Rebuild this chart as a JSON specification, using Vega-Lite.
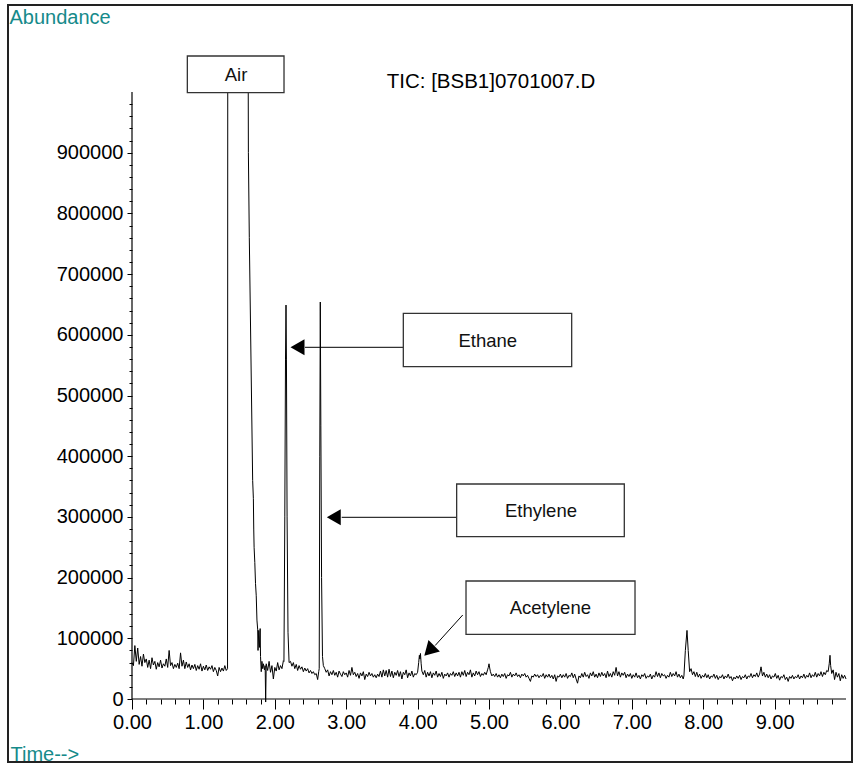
{
  "$schema": "https://vega.github.io/schema/vega-lite/v6.json",
  "width": 844,
  "height": 757,
  "autosize": "none",
  "padding": {"left": 8, "top": 5, "right": 2, "bottom": 3},
  "background": "white",
  "config": {
    "view": {"stroke": "#222", "strokeWidth": 2},
    "font": "Liberation Sans",
    "axis": {
      "grid": false,
      "domain": false,
      "labelFont": "Liberation Sans",
      "labelFontSize": 20,
      "labelColor": "#000",
      "labelFlush": false,
      "tickColor": "#000",
      "tickWidth": 1,
      "titleFont": "Liberation Sans",
      "titleFontWeight": "normal",
      "titleFontSize": 20,
      "titleColor": "#168a8a"
    }
  },
  "resolve": {"axis": {"x": "independent", "y": "independent"}},
  "datasets": {
    "trace": [
      {"t": 0.00, "a": 60000}, {"t": 0.02, "a": 55000}, {"t": 0.04, "a": 88000}, {"t": 0.06, "a": 62000},
      {"t": 0.08, "a": 84000}, {"t": 0.10, "a": 57000}, {"t": 0.12, "a": 70000}, {"t": 0.14, "a": 54000},
      {"t": 0.16, "a": 74000}, {"t": 0.18, "a": 60000}, {"t": 0.20, "a": 66000}, {"t": 0.22, "a": 52000},
      {"t": 0.24, "a": 64000}, {"t": 0.26, "a": 50000}, {"t": 0.28, "a": 68000}, {"t": 0.30, "a": 56000},
      {"t": 0.32, "a": 62000}, {"t": 0.34, "a": 49000}, {"t": 0.36, "a": 60000}, {"t": 0.38, "a": 53000},
      {"t": 0.40, "a": 64000}, {"t": 0.42, "a": 51000}, {"t": 0.44, "a": 58000}, {"t": 0.46, "a": 54000},
      {"t": 0.48, "a": 66000}, {"t": 0.50, "a": 52000}, {"t": 0.52, "a": 80000}, {"t": 0.54, "a": 55000},
      {"t": 0.56, "a": 60000}, {"t": 0.58, "a": 50000}, {"t": 0.60, "a": 57000}, {"t": 0.62, "a": 52000},
      {"t": 0.64, "a": 59000}, {"t": 0.66, "a": 50000}, {"t": 0.68, "a": 76000}, {"t": 0.70, "a": 54000},
      {"t": 0.72, "a": 64000}, {"t": 0.74, "a": 50000}, {"t": 0.76, "a": 61000}, {"t": 0.78, "a": 52000},
      {"t": 0.80, "a": 58000}, {"t": 0.82, "a": 48000}, {"t": 0.84, "a": 56000}, {"t": 0.86, "a": 50000},
      {"t": 0.88, "a": 57000}, {"t": 0.90, "a": 47000}, {"t": 0.92, "a": 55000}, {"t": 0.94, "a": 49000},
      {"t": 0.96, "a": 58000}, {"t": 0.98, "a": 46000}, {"t": 1.00, "a": 54000}, {"t": 1.02, "a": 48000},
      {"t": 1.04, "a": 56000}, {"t": 1.06, "a": 47000}, {"t": 1.08, "a": 53000}, {"t": 1.10, "a": 49000},
      {"t": 1.12, "a": 55000}, {"t": 1.14, "a": 45000}, {"t": 1.16, "a": 52000}, {"t": 1.18, "a": 47000},
      {"t": 1.20, "a": 38000}, {"t": 1.22, "a": 52000}, {"t": 1.24, "a": 45000}, {"t": 1.26, "a": 51000},
      {"t": 1.28, "a": 46000}, {"t": 1.30, "a": 55000}, {"t": 1.32, "a": 47000}, {"t": 1.338, "a": 50000},
      {"t": 1.341, "a": 1000000}, {"t": 1.628, "a": 1000000}, {"t": 1.630, "a": 900000}, {"t": 1.643, "a": 760000},
      {"t": 1.690, "a": 360000}, {"t": 1.700, "a": 330000}, {"t": 1.705, "a": 280000}, {"t": 1.710, "a": 250000},
      {"t": 1.720, "a": 225000}, {"t": 1.730, "a": 190000}, {"t": 1.740, "a": 170000}, {"t": 1.750, "a": 130000},
      {"t": 1.760, "a": 115000}, {"t": 1.765, "a": 80000}, {"t": 1.775, "a": 113000}, {"t": 1.785, "a": 85000},
      {"t": 1.795, "a": 116000}, {"t": 1.800, "a": 70000}, {"t": 1.810, "a": 45000}, {"t": 1.820, "a": 62000},
      {"t": 1.830, "a": 50000}, {"t": 1.840, "a": 58000}, {"t": 1.855, "a": 48000}, {"t": 1.865, "a": 55000},
      {"t": 1.872, "a": -5000}, {"t": 1.880, "a": 58000}, {"t": 1.90, "a": 47000}, {"t": 1.92, "a": 62000},
      {"t": 1.94, "a": 44000}, {"t": 1.96, "a": 55000}, {"t": 1.98, "a": 33000}, {"t": 2.00, "a": 52000},
      {"t": 2.02, "a": 46000}, {"t": 2.04, "a": 60000}, {"t": 2.06, "a": 48000}, {"t": 2.08, "a": 55000},
      {"t": 2.10, "a": 50000}, {"t": 2.12, "a": 63000}, {"t": 2.128, "a": 62000},
      {"t": 2.140, "a": 300000}, {"t": 2.150, "a": 560000}, {"t": 2.157, "a": 649000}, {"t": 2.163, "a": 560000},
      {"t": 2.172, "a": 300000}, {"t": 2.185, "a": 110000}, {"t": 2.200, "a": 60000},
      {"t": 2.22, "a": 62000}, {"t": 2.24, "a": 54000}, {"t": 2.26, "a": 60000}, {"t": 2.28, "a": 50000},
      {"t": 2.30, "a": 57000}, {"t": 2.32, "a": 47000}, {"t": 2.34, "a": 55000}, {"t": 2.36, "a": 49000},
      {"t": 2.38, "a": 53000}, {"t": 2.40, "a": 45000}, {"t": 2.42, "a": 51000}, {"t": 2.44, "a": 46000},
      {"t": 2.46, "a": 50000}, {"t": 2.48, "a": 43000}, {"t": 2.50, "a": 47000}, {"t": 2.52, "a": 42000},
      {"t": 2.54, "a": 45000}, {"t": 2.56, "a": 40000}, {"t": 2.58, "a": 42000}, {"t": 2.60, "a": 32000},
      {"t": 2.615, "a": 45000}, {"t": 2.622, "a": 50000},
      {"t": 2.630, "a": 400000}, {"t": 2.637, "a": 654000}, {"t": 2.645, "a": 450000}, {"t": 2.655, "a": 200000},
      {"t": 2.668, "a": 70000}, {"t": 2.680, "a": 55000},
      {"t": 2.70, "a": 50000}, {"t": 2.72, "a": 44000}, {"t": 2.74, "a": 48000}, {"t": 2.76, "a": 38000},
      {"t": 2.78, "a": 45000}, {"t": 2.80, "a": 40000}, {"t": 2.82, "a": 47000}, {"t": 2.84, "a": 39000},
      {"t": 2.86, "a": 44000}, {"t": 2.88, "a": 36000}, {"t": 2.90, "a": 46000}, {"t": 2.92, "a": 41000},
      {"t": 2.94, "a": 37000}, {"t": 2.96, "a": 45000}, {"t": 2.98, "a": 40000}, {"t": 3.00, "a": 43000},
      {"t": 3.02, "a": 36000}, {"t": 3.04, "a": 47000}, {"t": 3.06, "a": 39000}, {"t": 3.08, "a": 52000},
      {"t": 3.10, "a": 40000}, {"t": 3.12, "a": 44000}, {"t": 3.14, "a": 37000}, {"t": 3.16, "a": 42000},
      {"t": 3.18, "a": 34000}, {"t": 3.20, "a": 43000}, {"t": 3.22, "a": 38000}, {"t": 3.24, "a": 45000},
      {"t": 3.26, "a": 32000}, {"t": 3.28, "a": 41000}, {"t": 3.30, "a": 37000}, {"t": 3.32, "a": 44000},
      {"t": 3.34, "a": 38000}, {"t": 3.36, "a": 42000}, {"t": 3.38, "a": 36000}, {"t": 3.40, "a": 40000},
      {"t": 3.42, "a": 35000}, {"t": 3.44, "a": 41000}, {"t": 3.46, "a": 37000}, {"t": 3.48, "a": 46000},
      {"t": 3.50, "a": 36000}, {"t": 3.52, "a": 48000}, {"t": 3.54, "a": 38000}, {"t": 3.56, "a": 47000},
      {"t": 3.58, "a": 36000}, {"t": 3.60, "a": 49000}, {"t": 3.62, "a": 37000}, {"t": 3.64, "a": 46000},
      {"t": 3.66, "a": 35000}, {"t": 3.68, "a": 44000}, {"t": 3.70, "a": 39000}, {"t": 3.72, "a": 47000},
      {"t": 3.74, "a": 37000}, {"t": 3.76, "a": 45000}, {"t": 3.78, "a": 33000}, {"t": 3.80, "a": 44000},
      {"t": 3.82, "a": 40000}, {"t": 3.84, "a": 48000}, {"t": 3.86, "a": 35000}, {"t": 3.88, "a": 43000},
      {"t": 3.90, "a": 38000}, {"t": 3.92, "a": 46000}, {"t": 3.94, "a": 36000}, {"t": 3.96, "a": 42000},
      {"t": 3.98, "a": 40000}, {"t": 4.00, "a": 44000}, {"t": 4.015, "a": 60000}, {"t": 4.025, "a": 72000},
      {"t": 4.032, "a": 66000}, {"t": 4.04, "a": 75000}, {"t": 4.05, "a": 58000}, {"t": 4.06, "a": 46000},
      {"t": 4.08, "a": 40000}, {"t": 4.10, "a": 47000}, {"t": 4.12, "a": 36000}, {"t": 4.14, "a": 44000},
      {"t": 4.16, "a": 38000}, {"t": 4.18, "a": 45000}, {"t": 4.20, "a": 35000}, {"t": 4.22, "a": 43000},
      {"t": 4.24, "a": 39000}, {"t": 4.26, "a": 46000}, {"t": 4.28, "a": 36000}, {"t": 4.30, "a": 42000},
      {"t": 4.32, "a": 37000}, {"t": 4.34, "a": 44000}, {"t": 4.36, "a": 34000}, {"t": 4.38, "a": 41000},
      {"t": 4.40, "a": 38000}, {"t": 4.42, "a": 43000}, {"t": 4.44, "a": 36000}, {"t": 4.46, "a": 42000},
      {"t": 4.48, "a": 39000}, {"t": 4.50, "a": 45000}, {"t": 4.52, "a": 37000}, {"t": 4.54, "a": 43000},
      {"t": 4.56, "a": 38000}, {"t": 4.58, "a": 44000}, {"t": 4.60, "a": 36000}, {"t": 4.62, "a": 45000},
      {"t": 4.64, "a": 39000}, {"t": 4.66, "a": 47000}, {"t": 4.68, "a": 37000}, {"t": 4.70, "a": 44000},
      {"t": 4.72, "a": 40000}, {"t": 4.74, "a": 48000}, {"t": 4.76, "a": 36000}, {"t": 4.78, "a": 43000},
      {"t": 4.80, "a": 38000}, {"t": 4.82, "a": 46000}, {"t": 4.84, "a": 40000}, {"t": 4.86, "a": 45000},
      {"t": 4.88, "a": 37000}, {"t": 4.90, "a": 42000}, {"t": 4.92, "a": 39000}, {"t": 4.94, "a": 44000},
      {"t": 4.96, "a": 40000}, {"t": 4.98, "a": 48000}, {"t": 4.99, "a": 52000}, {"t": 5.00, "a": 58000},
      {"t": 5.01, "a": 51000}, {"t": 5.02, "a": 45000}, {"t": 5.04, "a": 38000}, {"t": 5.06, "a": 41000},
      {"t": 5.08, "a": 37000}, {"t": 5.10, "a": 42000}, {"t": 5.12, "a": 36000}, {"t": 5.14, "a": 40000},
      {"t": 5.16, "a": 35000}, {"t": 5.18, "a": 41000}, {"t": 5.20, "a": 37000}, {"t": 5.22, "a": 42000},
      {"t": 5.24, "a": 34000}, {"t": 5.26, "a": 40000}, {"t": 5.28, "a": 38000}, {"t": 5.30, "a": 44000},
      {"t": 5.32, "a": 36000}, {"t": 5.34, "a": 41000}, {"t": 5.36, "a": 38000}, {"t": 5.38, "a": 43000},
      {"t": 5.40, "a": 37000}, {"t": 5.42, "a": 40000}, {"t": 5.44, "a": 35000}, {"t": 5.46, "a": 41000},
      {"t": 5.48, "a": 38000}, {"t": 5.50, "a": 42000}, {"t": 5.52, "a": 36000}, {"t": 5.54, "a": 39000},
      {"t": 5.56, "a": 34000}, {"t": 5.58, "a": 29000}, {"t": 5.60, "a": 38000}, {"t": 5.62, "a": 36000},
      {"t": 5.64, "a": 41000}, {"t": 5.66, "a": 37000}, {"t": 5.68, "a": 40000}, {"t": 5.70, "a": 35000},
      {"t": 5.72, "a": 39000}, {"t": 5.74, "a": 37000}, {"t": 5.76, "a": 42000}, {"t": 5.78, "a": 34000},
      {"t": 5.80, "a": 40000}, {"t": 5.82, "a": 36000}, {"t": 5.84, "a": 41000}, {"t": 5.86, "a": 35000},
      {"t": 5.88, "a": 39000}, {"t": 5.90, "a": 33000}, {"t": 5.92, "a": 40000}, {"t": 5.94, "a": 29000},
      {"t": 5.96, "a": 38000}, {"t": 5.98, "a": 36000}, {"t": 6.00, "a": 41000}, {"t": 6.02, "a": 35000},
      {"t": 6.04, "a": 40000}, {"t": 6.06, "a": 36000}, {"t": 6.08, "a": 42000}, {"t": 6.10, "a": 34000},
      {"t": 6.12, "a": 39000}, {"t": 6.14, "a": 37000}, {"t": 6.16, "a": 43000}, {"t": 6.18, "a": 35000},
      {"t": 6.20, "a": 41000}, {"t": 6.22, "a": 33000}, {"t": 6.24, "a": 26000}, {"t": 6.26, "a": 38000},
      {"t": 6.28, "a": 35000}, {"t": 6.30, "a": 42000}, {"t": 6.32, "a": 36000}, {"t": 6.34, "a": 44000},
      {"t": 6.36, "a": 37000}, {"t": 6.38, "a": 40000}, {"t": 6.40, "a": 34000}, {"t": 6.42, "a": 43000},
      {"t": 6.44, "a": 38000}, {"t": 6.46, "a": 45000}, {"t": 6.48, "a": 36000}, {"t": 6.50, "a": 41000},
      {"t": 6.52, "a": 35000}, {"t": 6.54, "a": 43000}, {"t": 6.56, "a": 37000}, {"t": 6.58, "a": 44000},
      {"t": 6.60, "a": 38000}, {"t": 6.62, "a": 42000}, {"t": 6.64, "a": 35000}, {"t": 6.66, "a": 46000},
      {"t": 6.68, "a": 37000}, {"t": 6.70, "a": 42000}, {"t": 6.72, "a": 36000}, {"t": 6.74, "a": 45000},
      {"t": 6.76, "a": 39000}, {"t": 6.78, "a": 52000}, {"t": 6.80, "a": 38000}, {"t": 6.82, "a": 45000},
      {"t": 6.84, "a": 36000}, {"t": 6.86, "a": 43000}, {"t": 6.88, "a": 39000}, {"t": 6.90, "a": 44000},
      {"t": 6.92, "a": 35000}, {"t": 6.94, "a": 41000}, {"t": 6.96, "a": 37000}, {"t": 6.98, "a": 42000},
      {"t": 7.00, "a": 34000}, {"t": 7.02, "a": 40000}, {"t": 7.04, "a": 36000}, {"t": 7.06, "a": 43000},
      {"t": 7.08, "a": 35000}, {"t": 7.10, "a": 39000}, {"t": 7.12, "a": 33000}, {"t": 7.14, "a": 40000},
      {"t": 7.16, "a": 37000}, {"t": 7.18, "a": 42000}, {"t": 7.20, "a": 34000}, {"t": 7.22, "a": 38000},
      {"t": 7.24, "a": 36000}, {"t": 7.26, "a": 41000}, {"t": 7.28, "a": 33000}, {"t": 7.30, "a": 39000},
      {"t": 7.32, "a": 36000}, {"t": 7.34, "a": 45000}, {"t": 7.36, "a": 37000}, {"t": 7.38, "a": 43000},
      {"t": 7.40, "a": 35000}, {"t": 7.42, "a": 42000}, {"t": 7.44, "a": 38000}, {"t": 7.46, "a": 40000},
      {"t": 7.48, "a": 34000}, {"t": 7.50, "a": 39000}, {"t": 7.52, "a": 36000}, {"t": 7.54, "a": 44000},
      {"t": 7.56, "a": 37000}, {"t": 7.58, "a": 42000}, {"t": 7.60, "a": 38000}, {"t": 7.62, "a": 45000},
      {"t": 7.64, "a": 36000}, {"t": 7.66, "a": 41000}, {"t": 7.68, "a": 35000}, {"t": 7.70, "a": 39000},
      {"t": 7.72, "a": 33000}, {"t": 7.73, "a": 38000}, {"t": 7.75, "a": 80000}, {"t": 7.773, "a": 113000},
      {"t": 7.79, "a": 80000}, {"t": 7.81, "a": 45000}, {"t": 7.83, "a": 50000}, {"t": 7.85, "a": 40000},
      {"t": 7.87, "a": 45000}, {"t": 7.89, "a": 37000}, {"t": 7.91, "a": 44000}, {"t": 7.93, "a": 36000},
      {"t": 7.95, "a": 41000}, {"t": 7.97, "a": 34000}, {"t": 7.99, "a": 39000}, {"t": 8.01, "a": 36000},
      {"t": 8.03, "a": 42000}, {"t": 8.05, "a": 35000}, {"t": 8.07, "a": 40000}, {"t": 8.09, "a": 33000},
      {"t": 8.11, "a": 38000}, {"t": 8.13, "a": 36000}, {"t": 8.15, "a": 41000}, {"t": 8.17, "a": 34000},
      {"t": 8.19, "a": 39000}, {"t": 8.21, "a": 32000}, {"t": 8.23, "a": 37000}, {"t": 8.25, "a": 35000},
      {"t": 8.27, "a": 40000}, {"t": 8.29, "a": 33000}, {"t": 8.31, "a": 38000}, {"t": 8.33, "a": 35000},
      {"t": 8.35, "a": 41000}, {"t": 8.37, "a": 34000}, {"t": 8.39, "a": 37000}, {"t": 8.41, "a": 30000},
      {"t": 8.43, "a": 36000}, {"t": 8.45, "a": 33000}, {"t": 8.47, "a": 38000}, {"t": 8.49, "a": 34000},
      {"t": 8.51, "a": 39000}, {"t": 8.53, "a": 32000}, {"t": 8.55, "a": 37000}, {"t": 8.57, "a": 35000},
      {"t": 8.59, "a": 40000}, {"t": 8.61, "a": 33000}, {"t": 8.63, "a": 38000}, {"t": 8.65, "a": 36000},
      {"t": 8.67, "a": 42000}, {"t": 8.69, "a": 35000}, {"t": 8.71, "a": 40000}, {"t": 8.73, "a": 37000},
      {"t": 8.75, "a": 43000}, {"t": 8.77, "a": 36000}, {"t": 8.79, "a": 41000}, {"t": 8.81, "a": 53000},
      {"t": 8.83, "a": 38000}, {"t": 8.85, "a": 44000}, {"t": 8.87, "a": 36000}, {"t": 8.89, "a": 41000},
      {"t": 8.91, "a": 35000}, {"t": 8.93, "a": 40000}, {"t": 8.95, "a": 33000}, {"t": 8.97, "a": 38000},
      {"t": 8.99, "a": 36000}, {"t": 9.01, "a": 42000}, {"t": 9.03, "a": 34000}, {"t": 9.05, "a": 39000},
      {"t": 9.07, "a": 31000}, {"t": 9.09, "a": 37000}, {"t": 9.11, "a": 35000}, {"t": 9.13, "a": 40000},
      {"t": 9.15, "a": 32000}, {"t": 9.17, "a": 36000}, {"t": 9.19, "a": 29000}, {"t": 9.21, "a": 37000},
      {"t": 9.23, "a": 34000}, {"t": 9.25, "a": 39000}, {"t": 9.27, "a": 33000}, {"t": 9.29, "a": 37000},
      {"t": 9.31, "a": 35000}, {"t": 9.33, "a": 40000}, {"t": 9.35, "a": 33000}, {"t": 9.37, "a": 38000},
      {"t": 9.39, "a": 35000}, {"t": 9.41, "a": 41000}, {"t": 9.43, "a": 34000}, {"t": 9.45, "a": 39000},
      {"t": 9.47, "a": 36000}, {"t": 9.49, "a": 43000}, {"t": 9.51, "a": 35000}, {"t": 9.53, "a": 40000},
      {"t": 9.55, "a": 37000}, {"t": 9.57, "a": 44000}, {"t": 9.59, "a": 36000}, {"t": 9.61, "a": 42000},
      {"t": 9.63, "a": 38000}, {"t": 9.65, "a": 45000}, {"t": 9.67, "a": 37000}, {"t": 9.69, "a": 44000},
      {"t": 9.71, "a": 40000}, {"t": 9.73, "a": 47000}, {"t": 9.75, "a": 45000}, {"t": 9.765, "a": 58000},
      {"t": 9.776, "a": 72000}, {"t": 9.785, "a": 55000}, {"t": 9.80, "a": 42000}, {"t": 9.82, "a": 48000},
      {"t": 9.84, "a": 32000}, {"t": 9.86, "a": 44000}, {"t": 9.88, "a": 36000}, {"t": 9.90, "a": 42000},
      {"t": 9.92, "a": 30000}, {"t": 9.94, "a": 40000}, {"t": 9.96, "a": 34000}, {"t": 9.98, "a": 39000},
      {"t": 10.00, "a": 33000}
    ],
    "axisLines": [
      {"t1": 0, "t2": 0, "a1": 0, "a2": 1000000},
      {"t1": 0, "t2": 10, "a1": 0, "a2": 0}
    ],
    "notes": [
      {"label": "Air", "t1": 0.775, "t2": 2.129, "a1": 998850, "a2": 1059300, "lt": 1.457, "la": 1028000},
      {"label": "Ethane", "t1": 3.800, "t2": 6.158, "a1": 547460, "a2": 635420, "lt": 4.982, "la": 589790,
       "ax1": 3.800, "ay1": 579400, "ax2": 2.423, "ay2": 579400, "hx": 2.318, "hy": 579400},
      {"label": "Ethylene", "t1": 4.547, "t2": 6.895, "a1": 267380, "a2": 354200, "lt": 5.728, "la": 309720,
       "ax1": 4.547, "ay1": 299340, "ax2": 2.937, "ay2": 299340, "hx": 2.826, "hy": 299340},
      {"label": "Acetylene", "t1": 4.678, "t2": 7.045, "a1": 106590, "a2": 194400, "lt": 5.859, "la": 149420,
       "ax1": 4.632, "ay1": 138385, "ax2": 4.246, "ay2": 88138, "hx": 4.163, "hy": 79572}
    ]
  },
  "layer": [
    {
      "data": {"name": "trace"},
      "mark": {"type": "line", "color": "#000", "strokeWidth": 1},
      "encoding": {
        "x": {
          "field": "t", "type": "quantitative",
          "scale": {"domain": [-1.7367, 10.084], "nice": false, "zero": false},
          "axis": {
            "orient": "bottom", "offset": -63,
            "values": [0, 1, 2, 3, 4, 5, 6, 7, 8, 9],
            "format": ".2f",
            "tickSize": 10,
            "labelPadding": 3,
            "title": "Time-->", "titleX": 2, "titleY": 61, "titleAlign": "left", "titleBaseline": "alphabetic", "titleAngle": 0
          }
        },
        "y": {
          "field": "a", "type": "quantitative",
          "scale": {"domain": [-103789, 1143328], "nice": false, "zero": false},
          "axis": {
            "orient": "left", "offset": -124,
            "values": [0, 100000, 200000, 300000, 400000, 500000, 600000, 700000, 800000, 900000],
            "format": "d",
            "tickSize": 5,
            "labelPadding": 4,
            "title": "Abundance", "titleAngle": 0, "titleX": -123, "titleY": 18, "titleAlign": "left", "titleBaseline": "alphabetic"
          }
        }
      }
    },
    {
      "data": {"name": "axisLines"},
      "mark": {"type": "rule", "color": "#000", "strokeWidth": 1.2},
      "encoding": {
        "x": {
          "field": "t1", "type": "quantitative",
          "axis": {
            "orient": "bottom", "offset": -63, "labels": false, "title": null, "tickSize": 5,
            "values": [0.2, 0.4, 0.6, 0.8, 1.2, 1.4, 1.6, 1.8, 2.2, 2.4, 2.6, 2.8, 3.2, 3.4, 3.6, 3.8, 4.2, 4.4, 4.6, 4.8, 5.2, 5.4, 5.6, 5.8, 6.2, 6.4, 6.6, 6.8, 7.2, 7.4, 7.6, 7.8, 8.2, 8.4, 8.6, 8.8, 9.2, 9.4, 9.6, 9.8]
          }
        },
        "x2": {"field": "t2"},
        "y": {
          "field": "a1", "type": "quantitative",
          "axis": {
            "orient": "left", "offset": -124, "labels": false, "title": null, "tickSize": 3,
            "values": [20000, 40000, 60000, 80000, 120000, 140000, 160000, 180000, 220000, 240000, 260000, 280000, 320000, 340000, 360000, 380000, 420000, 440000, 460000, 480000, 520000, 540000, 560000, 580000, 620000, 640000, 660000, 680000, 720000, 740000, 760000, 780000, 820000, 840000, 860000, 880000, 920000, 940000, 960000, 980000]
          }
        },
        "y2": {"field": "a2"}
      }
    },
    {
      "data": {"name": "notes"},
      "transform": [{"filter": "isValid(datum.ax1)"}],
      "mark": {"type": "rule", "color": "#000", "strokeWidth": 1},
      "encoding": {
        "x": {"field": "ax1", "type": "quantitative", "axis": null},
        "x2": {"field": "ax2"},
        "y": {"field": "ay1", "type": "quantitative", "axis": null},
        "y2": {"field": "ay2"}
      }
    },
    {
      "data": {"name": "notes"},
      "transform": [{"filter": "datum.label === 'Ethane' || datum.label === 'Ethylene'"}],
      "mark": {"type": "point", "shape": "triangle-left", "filled": true, "color": "#000", "size": 260, "opacity": 1},
      "encoding": {
        "x": {"field": "hx", "type": "quantitative", "axis": null},
        "y": {"field": "hy", "type": "quantitative", "axis": null}
      }
    },
    {
      "data": {"name": "notes"},
      "transform": [{"filter": "datum.label === 'Acetylene'"}],
      "mark": {"type": "point", "shape": "triangle-down", "angle": 45, "filled": true, "color": "#000", "size": 260, "opacity": 1},
      "encoding": {
        "x": {"field": "hx", "type": "quantitative", "axis": null},
        "y": {"field": "hy", "type": "quantitative", "axis": null}
      }
    },
    {
      "data": {"name": "notes"},
      "mark": {"type": "rect", "fill": "white", "stroke": "#333", "strokeWidth": 1.3},
      "encoding": {
        "x": {"field": "t1", "type": "quantitative", "axis": null},
        "x2": {"field": "t2"},
        "y": {"field": "a1", "type": "quantitative", "axis": null},
        "y2": {"field": "a2"}
      }
    },
    {
      "data": {"name": "notes"},
      "mark": {"type": "text", "font": "Liberation Sans", "fontSize": 18.5, "color": "#111", "align": "center", "baseline": "middle"},
      "encoding": {
        "x": {"field": "lt", "type": "quantitative", "axis": null},
        "y": {"field": "la", "type": "quantitative", "axis": null},
        "text": {"field": "label"}
      }
    },
    {
      "data": {"values": [{"name": "TIC: [BSB1]0701007.D"}]},
      "mark": {"type": "text", "font": "Liberation Sans", "fontSize": 20.5, "color": "#000", "align": "center", "baseline": "alphabetic"},
      "encoding": {
        "x": {"datum": 5.028, "type": "quantitative", "axis": null},
        "y": {"datum": 1006590, "type": "quantitative", "axis": null},
        "text": {"field": "name"}
      }
    }
  ]
}
